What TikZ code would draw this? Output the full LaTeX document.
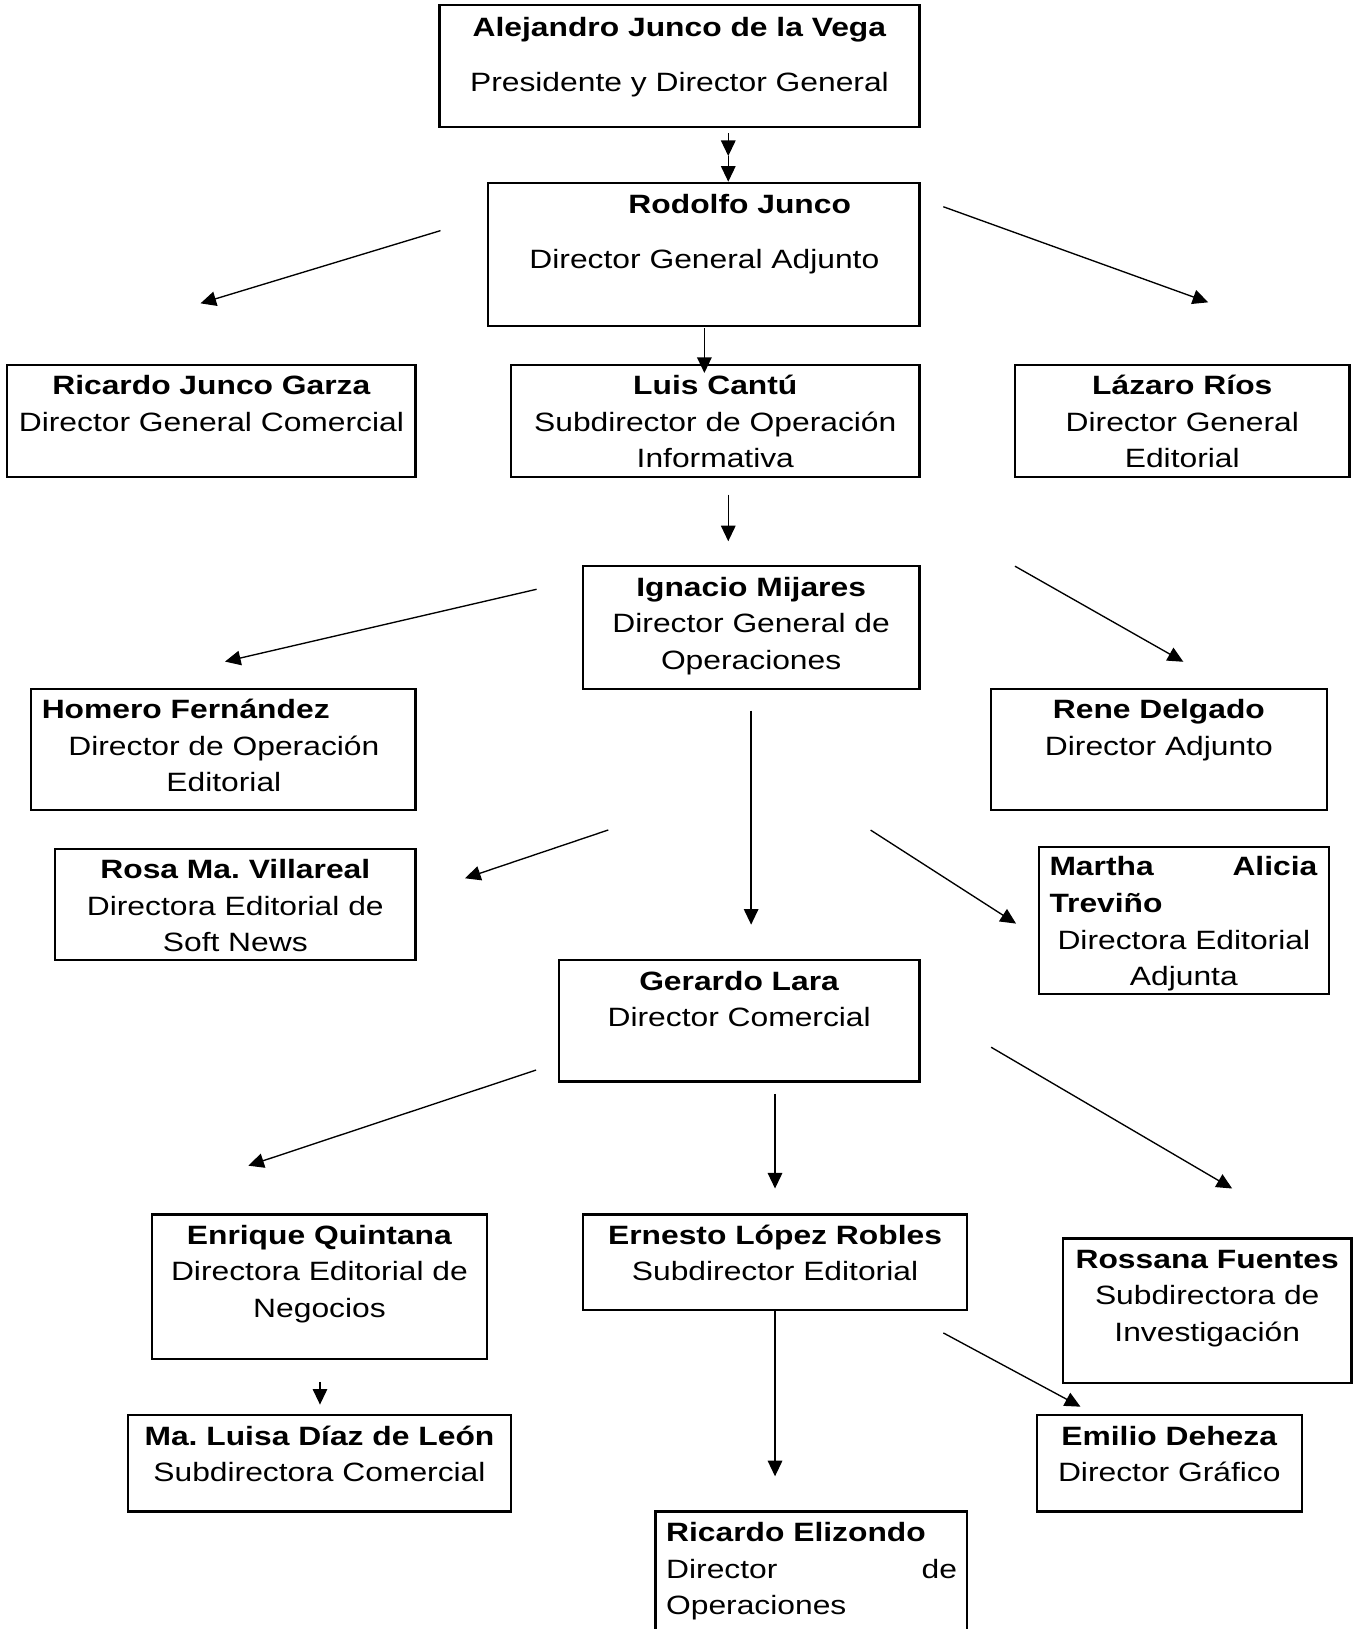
\documentclass[tikz,border=0pt]{standalone}
\usepackage{fontspec}
\setmainfont{Liberation Sans}[FakeStretch=1.2]
\usetikzlibrary{arrows.meta}
\frenchspacing

\begin{document}
\begin{tikzpicture}[x=1pt,y=-1pt,
    caja/.style={draw,line width=2.2pt,anchor=north west,inner sep=0pt,outer sep=0pt},
    texto/.style={font=\fontsize{25.5}{35}\selectfont,inner sep=0pt,text width=420,align=center,anchor=base},
    flecha/.style={line width=1.3pt,-{Triangle[length=15pt,width=14pt]}}]
                      \useasboundingbox (0,0) rectangle (1310,1568);
                      % cajas
                      \node[caja,minimum width=462,minimum height=117] (alejandro) at (423,5) {};
                      \node[caja,minimum width=415,minimum height=138] (rodolfo) at (470,176) {};
                      \node[caja,minimum width=393,minimum height=108] (ricardojg) at (7,351) {};
                      \node[caja,minimum width=393,minimum height=108] (luis) at (492,351) {};
                      \node[caja,minimum width=322,minimum height=108] (lazaro) at (977,351) {};
                      \node[caja,minimum width=324,minimum height=118] (ignacio) at (561,545) {};
                      \node[caja,minimum width=370,minimum height=117] (homero) at (30,663) {};
                      \node[caja,minimum width=323,minimum height=117] (rene) at (954,663) {};
                      \node[caja,minimum width=347,minimum height=107] (rosa) at (53,817) {};
                      \node[caja,minimum width=279,minimum height=142] (martha) at (1000,815) {};
                      \node[caja,minimum width=347,minimum height=117] (gerardo) at (538,924) {};
                      \node[caja,minimum width=323,minimum height=139] (enrique) at (146,1169) {};
                      \node[caja,minimum width=370,minimum height=92] (ernesto) at (561,1169) {};
                      \node[caja,minimum width=278,minimum height=139] (rossana) at (1023,1192) {};
                      \node[caja,minimum width=369,minimum height=93] (luisa) at (123,1362) {};
                      \node[caja,minimum width=255,minimum height=93] (emilio) at (998,1362) {};
                      \node[caja,minimum width=300,minimum height=140] (elizondo) at (631,1455) {};
                      % textos
                      \node[texto] (alejandro-t) at ([yshift=-30pt]alejandro.north) {\textbf{Alejandro Junco de la Vega}\\[18.5pt]Presidente y Director General};
                      \node[texto] (rodolfo-n) at (712,205.5) {\textbf{Rodolfo Junco}};
                      \node[texto] (rodolfo-c) at (678,258.5) {Director General Adjunto};
                      \node[texto] (ricardojg-t) at ([yshift=-29pt]ricardojg.north) {\textbf{Ricardo Junco Garza}\\Director General Comercial};
                      \node[texto] (luis-t) at ([yshift=-29pt]luis.north) {\textbf{Luis Cantú}\\Subdirector de Operación\\Informativa};
                      \node[texto] (lazaro-t) at ([yshift=-29pt]lazaro.north) {\textbf{Lázaro Ríos}\\Director General\\Editorial};
                      \node[texto] (ignacio-t) at ([yshift=-29pt]ignacio.north) {\textbf{Ignacio Mijares}\\Director General de\\Operaciones};
                      \node[texto,anchor=base west,text width=360,align=left] (homero-n) at (40,692) {\textbf{Homero Fernández}};
                      \node[texto] (homero-c) at (215.5,727) {Director de Operación\\Editorial};
                      \node[texto] (rene-t) at ([yshift=-29pt]rene.north) {\textbf{Rene Delgado}\\Director Adjunto};
                      \node[texto] (rosa-t) at ([yshift=-29pt]rosa.north) {\textbf{Rosa Ma. Villareal}\\Directora Editorial de\\Soft News};
                      \node[texto,anchor=base west,text width=258,align=left] (martha-n) at (1010,843) {\textbf{Martha\hfill Alicia}\\\textbf{Treviño}};
                      \node[texto] (martha-c) at (1139.5,914) {Directora Editorial\\Adjunta};
                      \node[texto] (gerardo-t) at ([yshift=-29pt]gerardo.north) {\textbf{Gerardo Lara}\\Director Comercial};
                      \node[texto] (enrique-t) at ([yshift=-29pt]enrique.north) {\textbf{Enrique Quintana}\\Directora Editorial de\\Negocios};
                      \node[texto] (ernesto-t) at ([yshift=-29pt]ernesto.north) {\textbf{Ernesto López Robles}\\Subdirector Editorial};
                      \node[texto] (rossana-t) at ([yshift=-29pt]rossana.north) {\textbf{Rossana Fuentes}\\Subdirectora de\\Investigación};
                      \node[texto] (luisa-t) at ([yshift=-29pt]luisa.north) {\textbf{Ma. Luisa Díaz de León}\\Subdirectora Comercial};
                      \node[texto] (emilio-t) at ([yshift=-29pt]emilio.north) {\textbf{Emilio Deheza}\\Director Gráfico};
                      \node[texto,anchor=base west,text width=280,align=left] (elizondo-t) at (641,1484) {\textbf{Ricardo Elizondo}\\Director\hfill de\\Operaciones};
                      % flechas
                      \coordinate (a1) at (701,128.3);  \coordinate (a2) at (701,150.2);  \coordinate (a3) at (701,174.9);
                      \coordinate (b1) at (424,222);    \coordinate (b2) at (193,292);
                      \coordinate (c1) at (908,199);    \coordinate (c2) at (1163,291);
                      \coordinate (d1) at (678,316);    \coordinate (d2) at (678,359);
                      \coordinate (e1) at (701,476);    \coordinate (e2) at (701,521);
                      \coordinate (f1) at (516.5,567.2);\coordinate (f2) at (216.6,636.8);
                      \coordinate (g1) at (977,545);    \coordinate (g2) at (1139,637);
                      \coordinate (h1) at (723,684);    \coordinate (h2) at (723,890);
                      \coordinate (i1) at (585.5,798.9);\coordinate (i2) at (447.6,845.4);
                      \coordinate (j1) at (838,799);    \coordinate (j2) at (978,889);
                      \coordinate (k1) at (516,1030);   \coordinate (k2) at (239,1122);
                      \coordinate (l1) at (746,1053);   \coordinate (l2) at (746,1144);
                      \coordinate (m1) at (954,1008);   \coordinate (m2) at (1186,1144);
                      \coordinate (n1) at (308,1330);   \coordinate (n2) at (308,1352);
                      \coordinate (o1) at (746,1261);   \coordinate (o2) at (746,1421);
                      \coordinate (p1) at (908,1283);   \coordinate (p2) at (1040,1354);
                      \draw[flecha] (a1) -- (a2);
                      \draw[flecha] (a2) -- (a3);
                      \draw[flecha] (b1) -- (b2);
                      \draw[flecha] (c1) -- (c2);
                      \draw[flecha] (d1) -- (d2);
                      \draw[flecha] (e1) -- (e2);
                      \draw[flecha] (f1) -- (f2);
                      \draw[flecha] (g1) -- (g2);
                      \draw[flecha] (h1) -- (h2);
                      \draw[flecha] (i1) -- (i2);
                      \draw[flecha] (j1) -- (j2);
                      \draw[flecha] (k1) -- (k2);
                      \draw[flecha] (l1) -- (l2);
                      \draw[flecha] (m1) -- (m2);
                      \draw[flecha] (n1) -- (n2);
                      \draw[flecha] (o1) -- (o2);
                      \draw[flecha] (p1) -- (p2);
                  \end{tikzpicture}
\end{document}
